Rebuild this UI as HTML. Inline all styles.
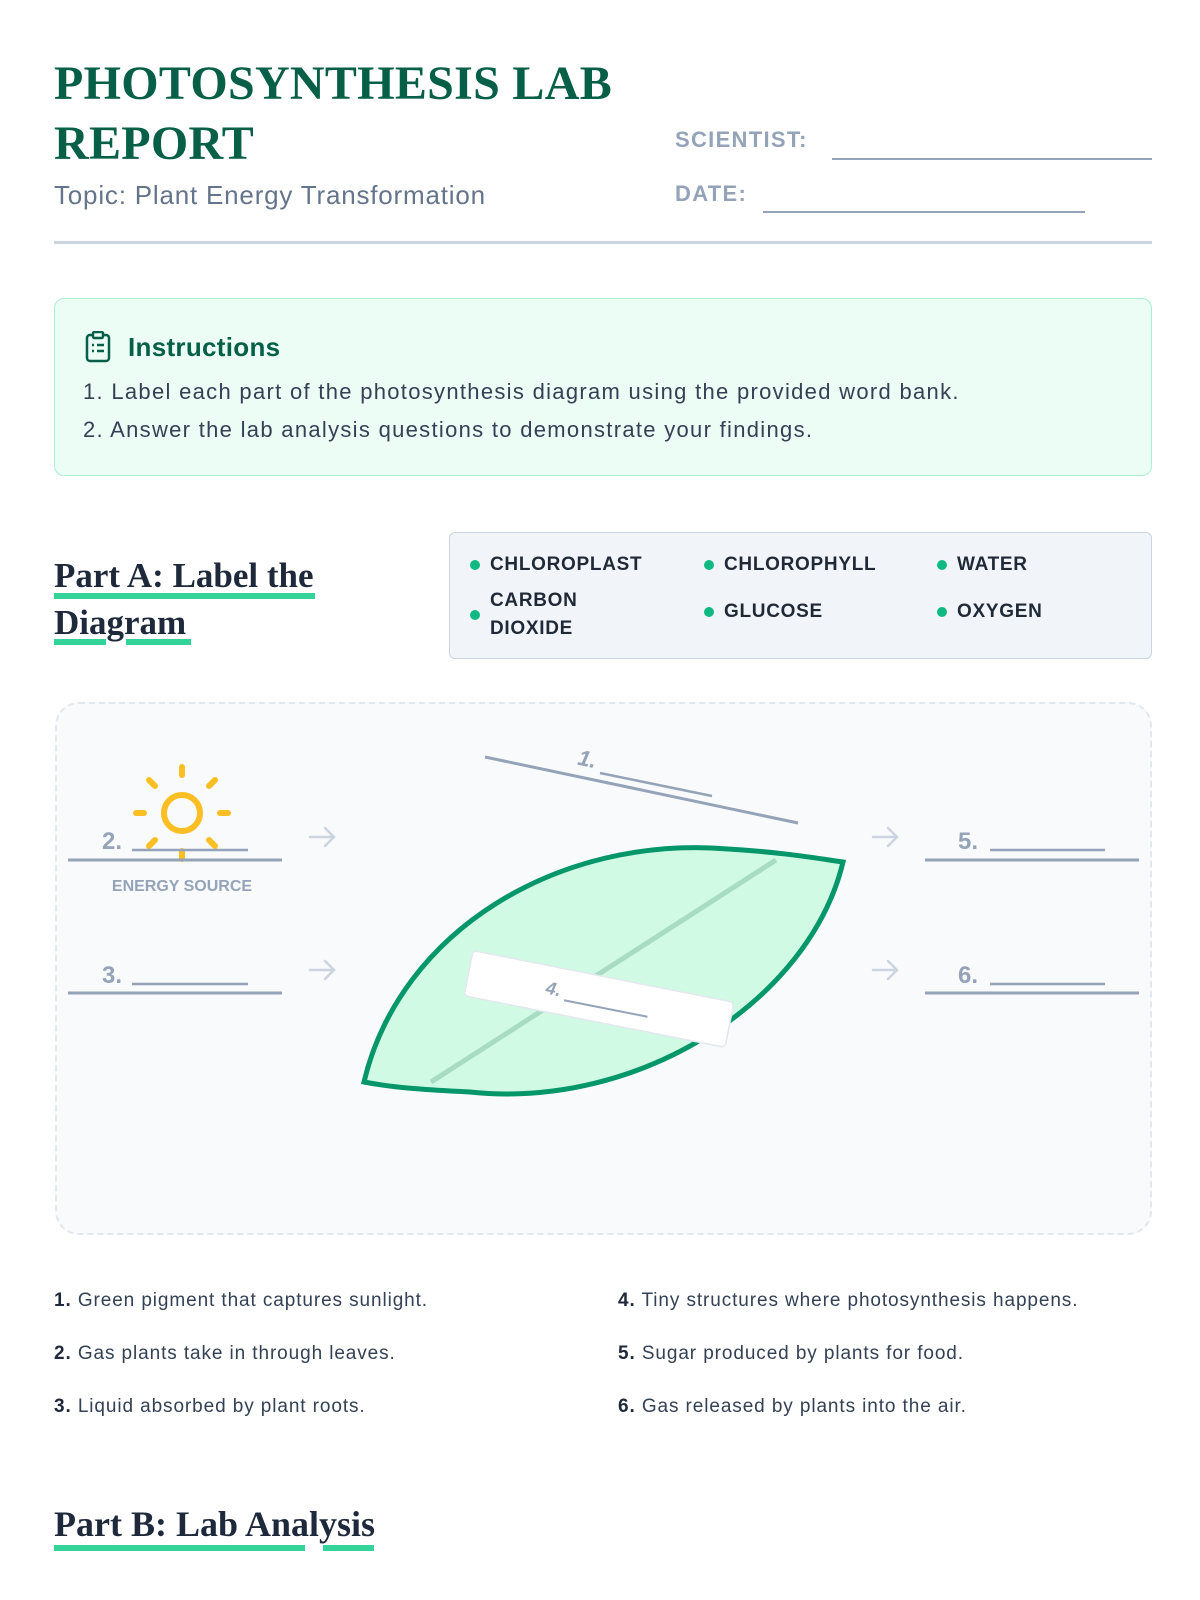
<!DOCTYPE html>
<html><head><meta charset="utf-8"><style>
*{margin:0;padding:0;box-sizing:border-box}
body{width:1200px;height:1600px;background:#fff;position:relative;font-family:"Liberation Sans",sans-serif;overflow:hidden}
.a{position:absolute;white-space:nowrap}
.title{font-family:"Liberation Serif",serif;font-weight:bold;color:#065f46;font-size:48px;line-height:60px;letter-spacing:0.3px}
.lbl{color:#94a3b8;font-weight:bold;font-size:22px;letter-spacing:1.3px}
.h{font-family:"Liberation Serif",serif;font-weight:bold;color:#1e293b;font-size:35px;letter-spacing:0px;line-height:47px}
.ul{position:absolute;height:6px;background:#34d399}
.wb{font-weight:bold;font-size:19px;color:#1f2937;letter-spacing:0.7px}
.dot{position:absolute;width:10px;height:10px;border-radius:50%;background:#10b981}
.clue{font-size:19px;color:#334155;letter-spacing:0.9px}
.clue b{color:#1e293b}
</style></head><body>
<div class="a title" style="left:54px;top:54px">PHOTOSYNTHESIS LAB</div>
<div class="a title" style="left:54px;top:114px">REPORT</div>
<div class="a" style="left:54px;top:180px;font-size:26px;color:#64748b;letter-spacing:0.8px">Topic: Plant Energy Transformation</div>
<div class="a lbl" style="left:675px;top:127px">SCIENTIST:</div>
<div class="a" style="left:832px;top:158px;width:320px;height:2px;background:#94a3b8"></div>
<div class="a lbl" style="left:675px;top:181px">DATE:</div>
<div class="a" style="left:763px;top:211px;width:322px;height:2px;background:#94a3b8"></div>
<div class="a" style="left:54px;top:241px;width:1098px;height:3px;background:#cbd5e1"></div>

<div class="a" style="left:54px;top:298px;width:1098px;height:178px;background:#ecfdf5;border:1.5px solid #a7f3d0;border-radius:10px"></div>
<svg class="a" style="left:84px;top:331px" width="28" height="32" viewBox="0 0 28 32"><rect x="3" y="4" width="22" height="26" rx="3" fill="none" stroke="#065f46" stroke-width="2.5"/><rect x="9" y="1" width="10" height="6" rx="1.5" fill="#ecfdf5" stroke="#065f46" stroke-width="2.5"/><g stroke="#065f46" stroke-width="2.5"><line x1="8" y1="14" x2="10" y2="14"/><line x1="13" y1="14" x2="20" y2="14"/><line x1="8" y1="20" x2="10" y2="20"/><line x1="13" y1="20" x2="20" y2="20"/></g></svg>
<div class="a" style="left:128px;top:332px;font-size:26px;font-weight:bold;color:#065f46;letter-spacing:0.3px">Instructions</div>
<div class="a" style="left:83px;top:379px;font-size:22px;color:#334155;letter-spacing:1.3px">1. Label each part of the photosynthesis diagram using the provided word bank.</div>
<div class="a" style="left:83px;top:417px;font-size:22px;color:#334155;letter-spacing:1.3px">2. Answer the lab analysis questions to demonstrate your findings.</div>

<div class="a h" style="left:54px;top:552px">Part A: Label the</div>
<div class="ul" style="left:54px;top:593px;width:261px"></div>
<div class="a h" style="left:54px;top:599px">Diagram</div>
<div class="ul" style="left:54px;top:639px;width:52px"></div>
<div class="ul" style="left:126px;top:639px;width:65px"></div>

<div class="a" style="left:449px;top:532px;width:703px;height:127px;background:#f1f5f9;border:1.5px solid #cbd5e1;border-radius:6px"></div>
<div class="dot" style="left:470px;top:560px"></div><div class="a wb" style="left:490px;top:554px">CHLOROPLAST</div>
<div class="dot" style="left:704px;top:560px"></div><div class="a wb" style="left:724px;top:554px">CHLOROPHYLL</div>
<div class="dot" style="left:937px;top:560px"></div><div class="a wb" style="left:957px;top:554px">WATER</div>
<div class="dot" style="left:470px;top:610px"></div><div class="a wb" style="left:490px;top:587px;line-height:28px">CARBON<br>DIOXIDE</div>
<div class="dot" style="left:704px;top:607px"></div><div class="a wb" style="left:724px;top:601px">GLUCOSE</div>
<div class="dot" style="left:937px;top:607px"></div><div class="a wb" style="left:957px;top:601px">OXYGEN</div>

<div class="a" style="left:55px;top:702px;width:1097px;height:533px;background:#f8fafc;border:2px dashed #e2e8f0;border-radius:24px"></div>
<svg class="a" style="left:0;top:0" width="1200" height="1600">
<g stroke="#fbbf24" stroke-width="6" stroke-linecap="round" fill="none">
<circle cx="182" cy="813" r="18"/>
<line x1="182" y1="767" x2="182" y2="775"/><line x1="182" y1="851" x2="182" y2="859"/>
<line x1="136" y1="813" x2="144" y2="813"/><line x1="220" y1="813" x2="228" y2="813"/>
<line x1="149" y1="780" x2="155" y2="786"/><line x1="209" y1="840" x2="215" y2="846"/>
<line x1="215" y1="780" x2="209" y2="786"/><line x1="155" y1="840" x2="149" y2="846"/>
</g>
<g stroke="#94a3b8" stroke-width="3"><line x1="68" y1="860" x2="282" y2="860"/><line x1="68" y1="993" x2="282" y2="993"/><line x1="925" y1="860" x2="1139" y2="860"/><line x1="925" y1="993" x2="1139" y2="993"/></g>
<g stroke="#94a3b8" stroke-width="2.5"><line x1="132" y1="850" x2="248" y2="850"/><line x1="132" y1="984" x2="248" y2="984"/><line x1="990" y1="850" x2="1105" y2="850"/><line x1="990" y1="984" x2="1105" y2="984"/></g>
<g fill="#94a3b8" font-family="Liberation Sans" font-weight="bold" font-size="24"><text x="102" y="849">2.</text><text x="102" y="983">3.</text><text x="958" y="849">5.</text><text x="958" y="983">6.</text></g>
<text x="182" y="891" text-anchor="middle" fill="#94a3b8" font-family="Liberation Sans" font-weight="bold" font-size="16">ENERGY SOURCE</text>
<g stroke="#cbd5e1" stroke-width="2.5" fill="none" stroke-linecap="round"><path d="M310 837H334M325 828L334 837L325 846"/><path d="M310 970H334M325 961L334 970L325 979"/><path d="M873 837H897M888 828L897 837L888 846"/><path d="M873 970H897M888 961L897 970L888 979"/></g>
<line x1="485" y1="757" x2="798" y2="823" stroke="#94a3b8" stroke-width="3"/>
<text x="578" y="766" fill="#94a3b8" font-family="Liberation Sans" font-weight="bold" font-style="italic" font-size="22" transform="rotate(12 585 760)">1.</text>
<line x1="600" y1="773" x2="712" y2="796" stroke="#94a3b8" stroke-width="2.5"/>
<path d="M364 1082 C400 930 560 835 728 849 C780 852 815 858 843 862 C810 1000 640 1110 470 1092 C430 1090 395 1088 364 1082Z" fill="#d1fae5" stroke="#059669" stroke-width="5"/>
<line x1="431" y1="1082" x2="776" y2="860" stroke="#a7dcc3" stroke-width="5"/>
<g transform="rotate(11.2 599 999)"><rect x="466" y="976" width="266" height="46" rx="4" fill="#fff" stroke="#e2e8f0" stroke-width="1.5"/>
<text x="545" y="1004" fill="#94a3b8" font-family="Liberation Sans" font-weight="bold" font-style="italic" font-size="18">4.</text>
<line x1="565" y1="1007" x2="650" y2="1007" stroke="#94a3b8" stroke-width="2"/></g>
</svg>

<div class="a clue" style="left:54px;top:1290px"><b>1.</b> Green pigment that captures sunlight.</div>
<div class="a clue" style="left:54px;top:1343px"><b>2.</b> Gas plants take in through leaves.</div>
<div class="a clue" style="left:54px;top:1396px"><b>3.</b> Liquid absorbed by plant roots.</div>
<div class="a clue" style="left:618px;top:1290px"><b>4.</b> Tiny structures where photosynthesis happens.</div>
<div class="a clue" style="left:618px;top:1343px"><b>5.</b> Sugar produced by plants for food.</div>
<div class="a clue" style="left:618px;top:1396px"><b>6.</b> Gas released by plants into the air.</div>

<div class="a h" style="left:54px;top:1501px;font-size:36px">Part B: Lab Analysis</div>
<div class="ul" style="left:54px;top:1545px;width:251px"></div>
<div class="ul" style="left:323px;top:1545px;width:51px"></div>
</body></html>
